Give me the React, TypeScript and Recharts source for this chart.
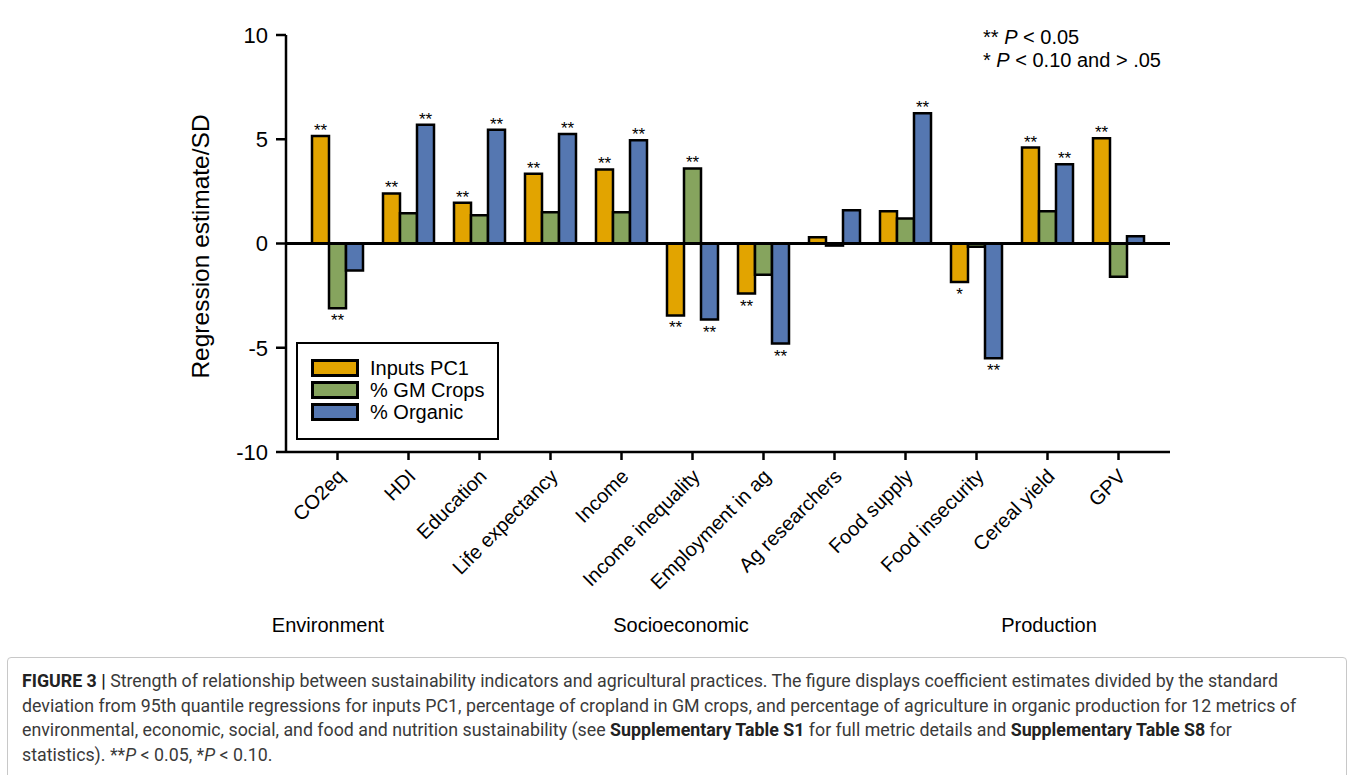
import React from "react";
import { Bar, BarChart, LabelList, Legend, ReferenceLine, XAxis, YAxis } from "recharts";

const categories = [
  "CO2eq",
  "HDI",
  "Education",
  "Life expectancy",
  "Income",
  "Income inequality",
  "Employment in ag",
  "Ag researchers",
  "Food supply",
  "Food insecurity",
  "Cereal yield",
  "GPV",
];
const seriesNames = ["Inputs PC1", "% GM Crops", "% Organic"];
const inputsPC1 = [5.15, 2.4, 1.95, 3.35, 3.55, -3.45, -2.4, 0.3, 1.55, -1.85, 4.6, 5.05];
const gmCrops = [-3.1, 1.45, 1.35, 1.5, 1.5, 3.6, -1.5, -0.1, 1.2, -0.15, 1.55, -1.6];
const organic = [-1.3, 5.7, 5.45, 5.25, 4.95, -3.65, -4.8, 1.6, 6.25, -5.5, 3.8, 0.35];
const sigInputs = ["**", "**", "**", "**", "**", "**", "**", "", "", "*", "**", "**"];
const sigGM = ["**", "", "", "", "", "**", "", "", "", "", "", ""];
const sigOrganic = ["", "**", "**", "**", "**", "**", "**", "", "**", "**", "**", ""];
const yTicks = [-10, -5, 0, 5, 10];
const groups = [
  { name: "Environment", x: 328 },
  { name: "Socioeconomic", x: 681 },
  { name: "Production", x: 1049 },
];

const data = categories.map((c, i) => ({
  name: c,
  inputs: inputsPC1[i],
  gm: gmCrops[i],
  organic: organic[i],
  sigInputs: sigInputs[i],
  sigGM: sigGM[i],
  sigOrganic: sigOrganic[i],
}));

const FONT = '"Liberation Sans", Arial, sans-serif';

const sigLabel = (vals: number[]) => (props: any) => {
  const { x, y, width, height, value, index } = props;
  if (!value) return null;
  const top = Math.min(y, y + height);
  const bottom = Math.max(y, y + height);
  const neg = vals[index] < 0;
  return (
    <text x={x + width / 2} y={neg ? bottom + 18 : top} textAnchor="middle" fontSize={17} fill="#000">
      {value}
    </text>
  );
};

const XTick = ({ x, y, payload }: any) => (
  <g transform={`translate(${x},${y})`}>
    <text x={0} y={0} dx={-5} dy={17} textAnchor="end" transform="rotate(-45)" fontSize={20} fill="#000">
      {payload.value}
    </text>
  </g>
);

const YTitle = (props: any) => {
  const { viewBox } = props;
  const cx = viewBox.x + 17;
  const cy = viewBox.y + viewBox.height / 2 + 3;
  return (
    <text x={cx} y={cy} transform={`rotate(-90, ${cx}, ${cy})`} textAnchor="middle" dominantBaseline="middle" fontSize={24.5} fill="#000">
      Regression estimate/SD
    </text>
  );
};

const LegendBox = ({ payload }: any) => {
  const items = [...(payload || [])].sort((a: any, b: any) => seriesNames.indexOf(a.value) - seriesNames.indexOf(b.value));
  return (
    <div style={{ border: "2px solid #000", padding: "13px 0 12px 13px", background: "#fff", width: 203, height: 98, boxSizing: "border-box" }}>
      {items.map((p: any) => (
        <div key={p.value} style={{ display: "flex", alignItems: "center", height: 22, whiteSpace: "nowrap" }}>
          <span style={{ width: 42, height: 12, background: p.color, border: "3px solid #000", marginRight: 11, flex: "none" }} />
          <span style={{ fontSize: 20, color: "#000" }}>{p.value}</span>
        </div>
      ))}
    </div>
  );
};

export default function App() {
  return (
    <div style={{ position: "absolute", left: 0, top: 0, width: 1355, height: 775, background: "#fff", fontFamily: FONT, overflow: "hidden" }}>
      <BarChart width={1355} height={650} data={data} margin={{ top: 35, right: 185, bottom: 0, left: 186 }} barGap={0}>
        <XAxis
          dataKey="name"
          interval={0}
          height={198}
          padding={{ left: 16, right: 16 }}
          tick={<XTick />}
          tickSize={8}
          stroke="#000"
          strokeWidth={2.5}
        />
        <YAxis
          domain={[-10, 10]}
          ticks={yTicks}
          width={100}
          tickSize={10}
          tickMargin={8}
          tick={{ fill: "#000", fontSize: 22 }}
          stroke="#000"
          strokeWidth={2.5}
          label={YTitle}
        />
        <ReferenceLine y={0} stroke="#000" strokeWidth={3} />
        <Legend
          layout="vertical"
          align="center"
          verticalAlign="middle"
          content={<LegendBox />}
          wrapperStyle={{ left: 296, top: 342, width: 203 }}
        />
        <Bar dataKey="inputs" name={seriesNames[0]} fill="#E2A400" stroke="#000" strokeWidth={2.5} barSize={17} isAnimationActive={false}>
          <LabelList dataKey="sigInputs" content={sigLabel(inputsPC1)} />
        </Bar>
        <Bar dataKey="gm" name={seriesNames[1]} fill="#86A45E" stroke="#000" strokeWidth={2.5} barSize={17} isAnimationActive={false}>
          <LabelList dataKey="sigGM" content={sigLabel(gmCrops)} />
        </Bar>
        <Bar dataKey="organic" name={seriesNames[2]} fill="#5577B1" stroke="#000" strokeWidth={2.5} barSize={17} isAnimationActive={false}>
          <LabelList dataKey="sigOrganic" content={sigLabel(organic)} />
        </Bar>
      </BarChart>

      <div style={{ position: "absolute", left: 983, top: 26, fontSize: 20, lineHeight: "23px", color: "#000" }}>
        <div>
          ** <i>P</i> &lt; 0.05
        </div>
        <div>
          * <i>P</i> &lt; 0.10 and &gt; .05
        </div>
      </div>

      {groups.map((g) => (
        <div
          key={g.name}
          style={{ position: "absolute", left: g.x, top: 614, transform: "translateX(-50%)", fontSize: 20, color: "#000", whiteSpace: "nowrap" }}
        >
          {g.name}
        </div>
      ))}

      <div
        style={{
          position: "absolute",
          left: 7,
          top: 657,
          width: 1340,
          height: 130,
          border: "1px solid #c8c8c8",
          borderRadius: 4,
          boxSizing: "border-box",
          padding: "11px 14px",
          fontFamily: '"Roboto", "Liberation Sans", sans-serif',
          fontSize: 17.8,
          lineHeight: "24.5px",
          color: "#3a3a3a",
          whiteSpace: "nowrap",
        }}
      >
        <b style={{ color: "#222" }}>FIGURE 3 |</b> Strength of relationship between sustainability indicators and agricultural practices. The figure
        displays coefficient estimates divided by the standard
        <br />
        deviation from 95th quantile regressions for inputs PC1, percentage of cropland in GM crops, and percentage of agriculture in organic
        production for 12 metrics of
        <br />
        environmental, economic, social, and food and nutrition sustainability (see <b style={{ color: "#222" }}>Supplementary Table S1</b> for
        full metric details and <b style={{ color: "#222" }}>Supplementary Table S8</b> for
        <br />
        statistics). **<i>P</i> &lt; 0.05, *<i>P</i> &lt; 0.10.
      </div>
    </div>
  );
}
